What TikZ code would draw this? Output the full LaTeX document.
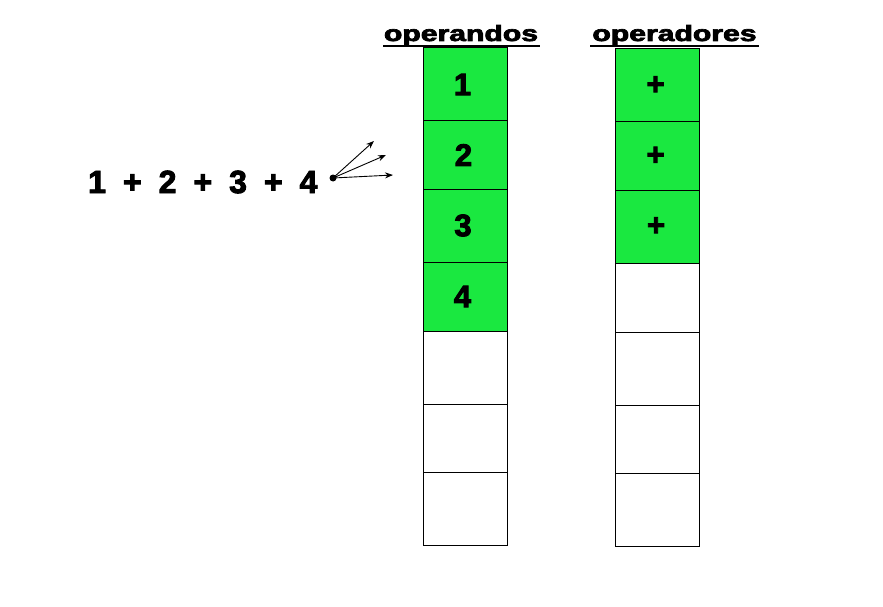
\documentclass[tikz,border=0pt]{standalone}
\usepackage{fontspec}
\setmainfont{Liberation Sans}
\newfontfamily\heavyfont{Liberation Sans Bold}[FakeBold=3]
\usetikzlibrary{arrows.meta}
\definecolor{cellgreen}{RGB}{26,232,64}
\begin{document}
\begin{tikzpicture}[x=1pt,y=-1pt,
  cell/.style={draw=black,line width=1pt,minimum width=84pt,inner sep=0pt,
    font=\heavyfont\fontsize{31}{31}\selectfont},
  full/.style={cell,fill=cellgreen},
  head/.style={font=\heavyfont\fontsize{22}{22}\selectfont,inner sep=0pt,anchor=base},
  uline/.style={line width=2.5pt},
  expr/.style={font=\heavyfont\fontsize{32}{32}\selectfont,inner sep=0pt,anchor=base west},
  ray/.style={line width=0.9pt,-{Stealth[length=8pt,width=6pt]}}]
\useasboundingbox[fill=white] (0,0) rectangle (883,607);
% headers
\node[head] (h1) at (461,41) {\scalebox{1.37}[1]{operandos}};
\node[head] (h2) at (674.5,41) {\scalebox{1.37}[1]{operadores}};
\draw[uline] (383,46) -- (540,46);
\draw[uline] (590,46) -- (759,46);
% operand stack
\node[full,minimum height=73pt] (a1) at (465,84.5) {\raisebox{-2pt}{1}\kern5pt};
\node[full,minimum height=68pt] (a2) at (465,155) {\raisebox{-2pt}{2}\kern3pt};
\node[full,minimum height=73pt] (a3) at (465,225.5) {\raisebox{-2pt}{3}\kern4pt};
\node[full,minimum height=69pt] (a4) at (465,296.5) {\raisebox{-2pt}{4}\kern5pt};
\node[cell,minimum height=73pt] (a5) at (465,367.5) {};
\node[cell,minimum height=68pt] (a6) at (465,438) {};
\node[cell,minimum height=73pt] (a7) at (465,508.5) {};
% operator stack
\node[full,minimum height=73pt] (b1) at (657,85.5) {+\kern3pt};
\node[full,minimum height=68pt] (b2) at (657,156) {+\kern3pt};
\node[full,minimum height=73pt] (b3) at (657,226.5) {+\kern2pt};
\node[cell,minimum height=69pt] (b4) at (657,297.5) {};
\node[cell,minimum height=73pt] (b5) at (657,368.5) {};
\node[cell,minimum height=68pt] (b6) at (657,439) {};
\node[cell,minimum height=73pt] (b7) at (657,509.5) {};
% expression
\node[expr] (ex) at (88,193) {1\hspace{17pt}+\hspace{17pt}2\hspace{17pt}+\hspace{17pt}3\hspace{17pt}+\hspace{17pt}4};
\node[circle,fill=black,minimum size=7pt,inner sep=0pt] (dot) at (333,178) {};
\coordinate (e1) at (374,141);
\coordinate (e2) at (386,155);
\coordinate (e3) at (393,175);
\draw[ray] (dot.center) -- (e1);
\draw[ray] (dot.center) -- (e2);
\draw[ray] (dot.center) -- (e3);
\end{tikzpicture}
\end{document}
